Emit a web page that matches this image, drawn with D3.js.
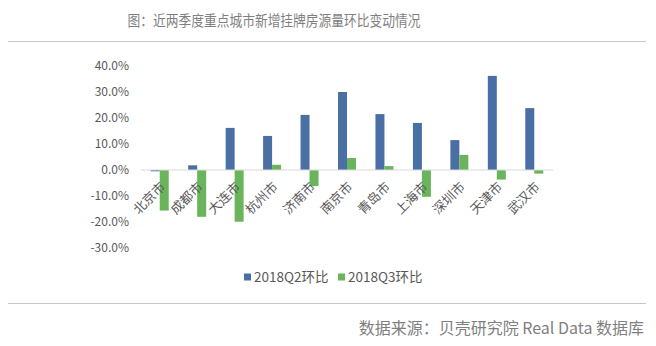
<!DOCTYPE html>
<html>
<head>
<meta charset="utf-8">
<script src="https://cdn.jsdelivr.net/npm/d3@7"></script>
<style>
  html, body { margin: 0; padding: 0; background: #fff; }
  svg { display: block; }
  text { font-family: "Noto Sans CJK SC", "Noto Sans", sans-serif; }
</style>
</head>
<body>
<svg id="chart" width="656" height="346"></svg>
<script>
// City-level quarter-on-quarter change in newly listed homes (%)
const cities = ["北京市", "成都市", "大连市", "杭州市", "济南市", "南京市", "青岛市", "上海市", "深圳市", "天津市", "武汉市"];
const q2Values = [-0.5, 1.8, 16.2, 13.1, 21.2, 30.0, 21.5, 18.1, 11.5, 36.2, 23.8];
const q3Values = [-15.6, -18.0, -19.9, 2.0, -6.2, 4.6, 1.5, -10.3, 5.8, -3.7, -1.4];
const seriesNames = ["2018Q2环比", "2018Q3环比"];
const seriesColors = ["#4a6fa5", "#6ab55b"];
const yTicks = [-30, -20, -10, 0, 10, 20, 30, 40];

const titleText = "图：近两季度重点城市新增挂牌房源量环比变动情况";
const sourceText = "数据来源：贝壳研究院 Real Data 数据库";

const svg = d3.select("#chart");
const plot = { left: 141, right: 553, top: 66, bottom: 248 };

// Header and footer
svg.append("text")
  .attr("x", 274).attr("y", 26)
  .attr("text-anchor", "middle")
  .attr("font-size", 15)
  .attr("textLength", 293)
  .attr("lengthAdjust", "spacingAndGlyphs")
  .attr("fill", "#7f7f7f")
  .text(titleText);

svg.append("line")
  .attr("x1", 8).attr("x2", 646).attr("y1", 41.5).attr("y2", 41.5)
  .attr("stroke", "#c8c8c8").attr("stroke-width", 1.2);

svg.append("line")
  .attr("x1", 8).attr("x2", 646).attr("y1", 303.5).attr("y2", 303.5)
  .attr("stroke", "#c8c8c8").attr("stroke-width", 1.2);

svg.append("text")
  .attr("x", 644).attr("y", 334)
  .attr("text-anchor", "end")
  .attr("font-size", 16)
  .attr("fill", "#7f7f7f")
  .text(sourceText);

// Scales
const x = d3.scaleBand().domain(cities).range([plot.left, plot.right]).paddingInner(0.52).paddingOuter(0.26);
const xs = d3.scaleBand().domain(seriesNames).range([0, x.bandwidth()]);
const y = d3.scaleLinear().domain([-30, 40]).range([plot.bottom, plot.top]);

// Y axis labels (no axis line, no ticks)
const yAxis = svg.append("g")
  .attr("transform", `translate(${plot.left - 12},0)`)
  .call(d3.axisLeft(y).tickValues(yTicks).tickSize(0).tickPadding(0).tickFormat(d => d.toFixed(1) + "%"));
yAxis.select(".domain").remove();
yAxis.selectAll("text")
  .attr("font-size", 12)
  .attr("fill", "#595959")
  .attr("font-family", "\"Noto Sans CJK SC\", sans-serif");

// Bars
const groups = svg.append("g").selectAll("g")
  .data(cities.map((c, i) => ({ city: c, vals: [q2Values[i], q3Values[i]] })))
  .join("g")
  .attr("transform", d => `translate(${x(d.city)},0)`);

groups.selectAll("rect")
  .data(d => d.vals.map((v, k) => ({ v, k })))
  .join("rect")
  .attr("x", d => xs(seriesNames[d.k]))
  .attr("width", xs.bandwidth())
  .attr("y", d => y(Math.max(0, d.v)))
  .attr("height", d => Math.abs(y(d.v) - y(0)))
  .attr("fill", d => seriesColors[d.k]);

// Zero line
svg.append("line")
  .attr("x1", plot.left).attr("x2", plot.right)
  .attr("y1", y(0)).attr("y2", y(0))
  .attr("stroke", "#d9d9d9").attr("stroke-width", 1);

// Category labels, rotated
const xAxis = svg.append("g")
  .attr("transform", `translate(0,${y(0)})`)
  .call(d3.axisBottom(x).tickSize(0).tickPadding(0));
xAxis.select(".domain").remove();
xAxis.selectAll("text")
  .attr("font-size", 13)
  .attr("fill", "#595959")
  .attr("text-anchor", "end")
  .attr("dy", null)
  .attr("y", 0)
  .attr("transform", "translate(4,15) rotate(-45)")
  .attr("dominant-baseline", "middle");

// Legend
const legend = svg.append("g");
const legendX = [244, 338];
seriesNames.forEach((name, k) => {
  legend.append("rect")
    .attr("x", legendX[k]).attr("y", 273.5)
    .attr("width", 7).attr("height", 7)
    .attr("fill", seriesColors[k]);
  legend.append("text")
    .attr("x", legendX[k] + 10).attr("y", 282)
    .attr("font-size", 13.5)
    .attr("fill", "#595959")
    .text(name);
});
</script>
</body>
</html>
